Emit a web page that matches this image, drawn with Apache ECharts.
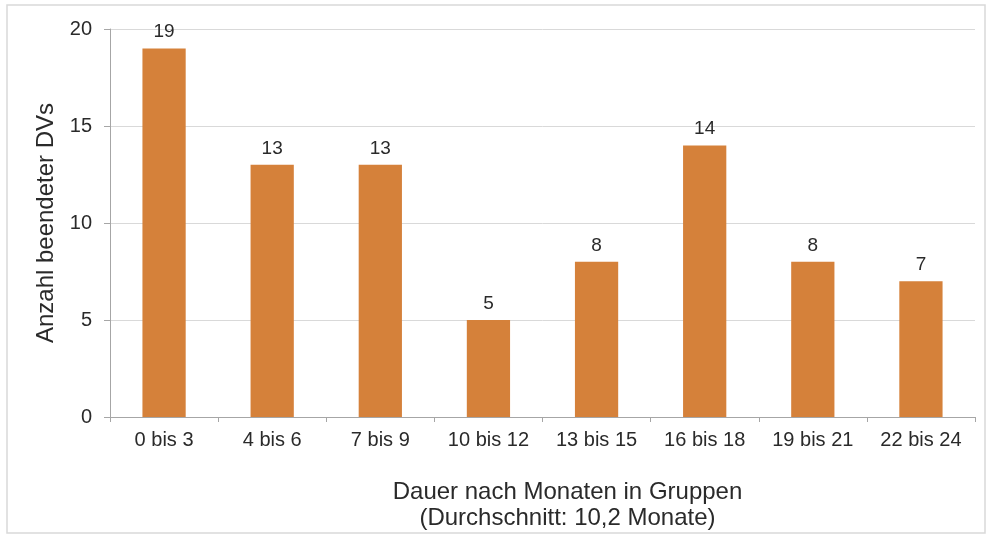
<!DOCTYPE html>
<html>
<head>
<meta charset="utf-8">
<script src="https://cdn.jsdelivr.net/npm/echarts@6/dist/echarts.min.js"></script>
<style>
  html, body { margin: 0; padding: 0; background: #fff; }
  #chart { width: 989px; height: 540px; }
</style>
</head>
<body>
<div id="chart"></div>
<script>
// Daten
var categories = ["0 bis 3", "4 bis 6", "7 bis 9", "10 bis 12", "13 bis 15", "16 bis 18", "19 bis 21", "22 bis 24"];
var counts = [19, 13, 13, 5, 8, 14, 8, 7];
var yTicks = [0, 5, 10, 15, 20];

var chart = echarts.init(document.getElementById("chart"));

var option = {
  backgroundColor: "#fff",
  animation: false,
  textStyle: { fontFamily: "Liberation Sans, Arial, sans-serif" },
  // Rahmen um die ganze Grafik
  graphic: [
    {
      type: "rect",
      shape: { x: 7, y: 5, width: 978, height: 528 },
      style: { fill: "none", stroke: "#d9d9d9", lineWidth: 1.5 },
      silent: true
    }
  ],
  grid: { left: 110, right: 14, top: 29, bottom: 123 },
  xAxis: {
    type: "category",
    data: categories,
    name: "Dauer nach Monaten in Gruppen\n(Durchschnitt: 10,2 Monate)",
    nameLocation: "middle",
    nameGap: 62,
    nameTextStyle: { fontSize: 24, color: "#2a2a2a", lineHeight: 26, padding: [0, 0, 0, 50] },
    axisLine: { lineStyle: { color: "#a6a6a6" } },
    axisTick: { show: true, alignWithLabel: false, length: 5, lineStyle: { color: "#a6a6a6" } },
    axisLabel: { fontSize: 20, color: "#2a2a2a", margin: 13 }
  },
  yAxis: {
    type: "value",
    min: yTicks[0],
    max: yTicks[yTicks.length - 1],
    interval: 5,
    name: "Anzahl beendeter DVs",
    nameLocation: "middle",
    nameGap: 48,
    nameTextStyle: { fontSize: 24, color: "#2a2a2a" },
    axisLine: { show: true, lineStyle: { color: "#a6a6a6" } },
    axisTick: { show: true, length: 6, lineStyle: { color: "#a6a6a6" } },
    axisLabel: { fontSize: 20, color: "#2a2a2a", margin: 18 },
    splitLine: { lineStyle: { color: "#d9d9d9" } }
  },
  series: [
    {
      type: "bar",
      data: counts,
      barWidth: "40%",
      itemStyle: { color: "#d5813a" },
      label: {
        show: true,
        position: "top",
        distance: 7,
        fontSize: 19,
        color: "#2a2a2a"
      }
    }
  ]
};

chart.setOption(option);
</script>
</body>
</html>
